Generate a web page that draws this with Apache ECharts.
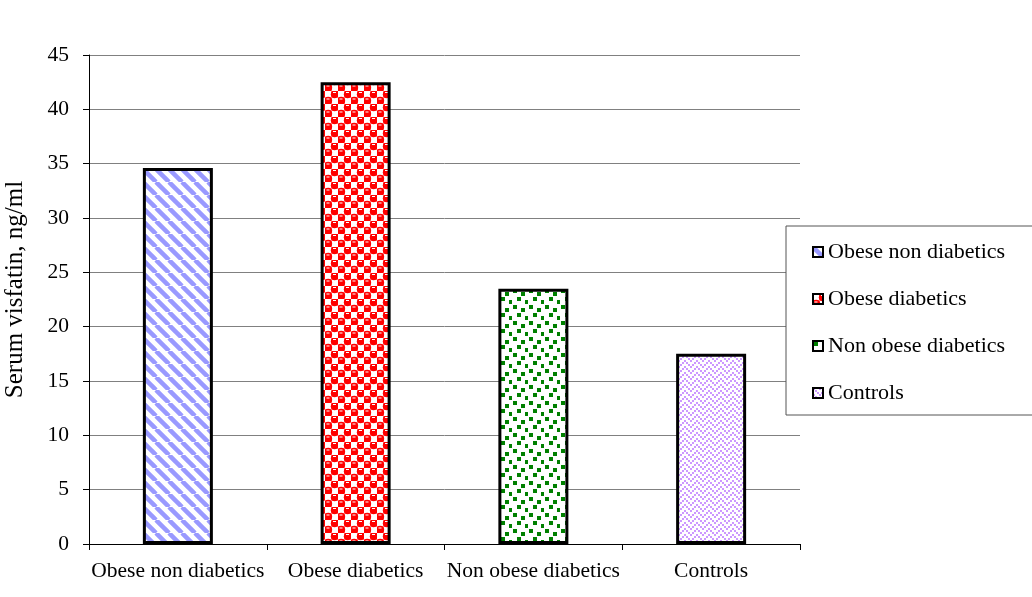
<!DOCTYPE html>
<html><head><meta charset="utf-8">
<script src="https://cdn.jsdelivr.net/npm/echarts@6/dist/echarts.min.js"></script>
<style>html,body{margin:0;padding:0;background:#fff}#c{width:1032px;height:597px}</style>
</head><body><div id="c"></div>
<script>
const categories = ['Obese non diabetics', 'Obese diabetics', 'Non obese diabetics', 'Controls'];
const values = [34.6, 42.5, 23.5, 17.5];
const yTicks = [0, 5, 10, 15, 20, 25, 30, 35, 40, 45];
const yAxisTitle = 'Serum visfatin, ng/ml';

function tile(w, h, draw) {
  const c = document.createElement('canvas');
  c.width = w; c.height = h;
  const g = c.getContext('2d');
  g.fillStyle = '#fff'; g.fillRect(0, 0, w, h);
  draw(g, w, h);
  return c;
}
const patterns = [
  tile(13, 13, (g, w) => {
    g.strokeStyle = '#9999ff'; g.lineWidth = 4.5;
    [-w, 0, w].forEach((ox) => {
      g.beginPath(); g.moveTo(ox, 0); g.lineTo(ox + w, w); g.stroke();
    });
  }),
  tile(13, 13, (g) => {
    g.fillStyle = '#ff0000';
    g.fillRect(6.5, 0, 6.5, 6.5); g.fillRect(0, 6.5, 6.5, 6.5);
    [[9.75, 3.25], [3.25, 9.75]].forEach(([x, y]) => { g.beginPath(); g.arc(x, y, 3.9, 0, Math.PI * 2); g.fill(); });
    g.fillStyle = '#fff'; g.fillRect(8, 1, 3, 1); g.fillRect(1.5, 7.5, 3, 1);
  }),
  tile(16, 16, (g) => {
    g.fillStyle = '#008000';
    [[1, 1], [9, 4], [5, 9], [13, 12], [13, -4]].forEach(([x, y]) => g.fillRect(x, y, 4, 4));
  }),
  tile(12, 12, (g) => {
    g.fillStyle = '#cc99ff';
    const pts = [[0,0],[2,2],[4,4],[6,6],[8,4],[10,2],[0,6],[2,8],[4,10],[6,0],[8,10],[10,8]];
    pts.forEach(([x, y]) => g.fillRect(x, y, 2, 2));
  })
];

const chart = echarts.init(document.getElementById('c'), null, { renderer: 'canvas' });
const font = 'Liberation Serif, Times New Roman, serif';
const series = categories.map((name, i) => ({
  name: name,
  type: 'bar',
  barWidth: 70,
  barGap: '-100%',
  data: categories.map((_, j) => j === i ? values[j] : '-'),
  itemStyle: { color: { image: patterns[i], repeat: 'repeat' }, borderColor: '#000', borderWidth: 3 },
  emphasis: { disabled: true }
}));
chart.setOption({
  animation: false,
  backgroundColor: '#fff',
  textStyle: { fontFamily: font },
  grid: { left: 89, right: 232, top: 55, bottom: 53, containLabel: false, outerBoundsMode: 'none' },
  legend: {
    orient: 'vertical',
    left: 786, top: 226,
    padding: [15, 60, 11, 26],
    itemGap: 25,
    itemWidth: 10, itemHeight: 10,
    icon: 'rect',
    backgroundColor: '#fff',
    borderColor: '#555', borderWidth: 1,
    itemStyle: { borderColor: '#000', borderWidth: 2 },
    textStyle: { fontFamily: font, fontSize: 22, color: '#000' },
    data: categories
  },
  xAxis: {
    type: 'category',
    data: categories,
    axisLine: { lineStyle: { color: '#000', width: 1 } },
    axisTick: { show: true, length: 6, lineStyle: { color: '#000' } },
    axisLabel: { fontFamily: font, fontSize: 21.5, color: '#000', margin: 16, interval: 0 }
  },
  yAxis: {
    type: 'value',
    min: yTicks[0], max: yTicks[yTicks.length - 1], interval: 5,
    name: yAxisTitle, nameLocation: 'middle', nameGap: 61,
    nameTextStyle: { fontFamily: font, fontSize: 25, color: '#000', padding: [0, 0, 0, 20] },
    axisLine: { show: true, lineStyle: { color: '#000', width: 1 } },
    axisTick: { show: true, length: 6, lineStyle: { color: '#000' } },
    axisLabel: { fontFamily: font, fontSize: 21.5, color: '#000', margin: 20 },
    splitLine: { show: true, lineStyle: { color: '#808080', width: 1 } }
  },
  series: series
});
</script></body></html>
